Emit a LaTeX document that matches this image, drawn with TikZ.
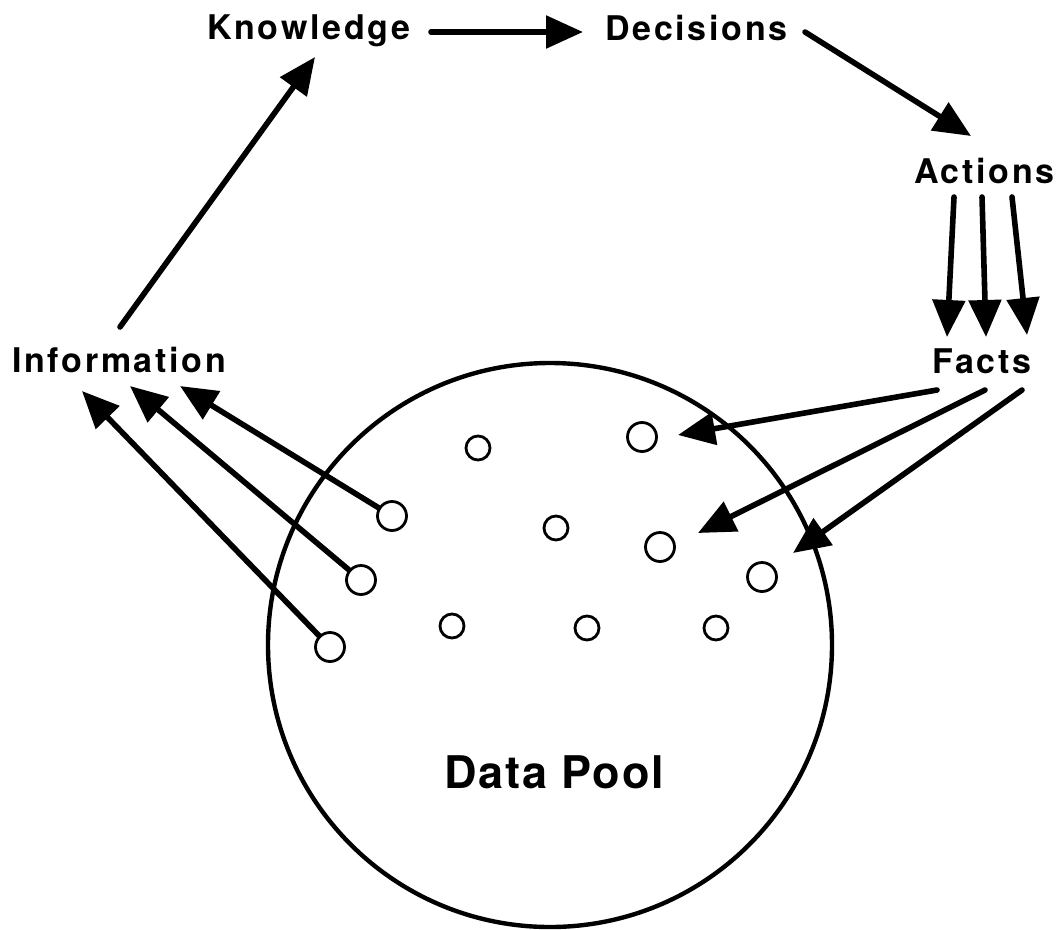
\documentclass[tikz,border=0pt]{standalone}
\usepackage{fontspec}
\newfontfamily\labelfont[LetterSpace=8]{TeX Gyre Heros}
\newfontfamily\poolfont[LetterSpace=4]{TeX Gyre Heros}
\usetikzlibrary{arrows.meta}
\begin{document}
\begin{tikzpicture}[x=1pt,y=-1pt,
  lbl/.style={anchor=base west,inner sep=0pt,font=\labelfont\bfseries\fontsize{34}{40}\selectfont},
  arr/.style={line width=5.6pt,line cap=round,-{Triangle[length=37pt,width=32pt]}},
  dot/.style={circle,draw,line width=2.8pt,inner sep=0pt,minimum size=#1},
  dot/.default=29pt]
\useasboundingbox (0,0) rectangle (1056,929);

% the data pool
\node[circle,draw,line width=4.4pt,minimum size=564pt,inner sep=0pt] (pool) at (550,645) {};
\node[anchor=base west,inner sep=0pt,font=\poolfont\bfseries\fontsize{45}{52}\selectfont] (pooltxt) at (444,788) {Data Pool};

% data items
\node[dot] (d1) at (642,437) {};
\node[dot] (d2) at (392,516) {};
\node[dot] (d3) at (660,547) {};
\node[dot] (d4) at (361,580) {};
\node[dot] (d5) at (762,577) {};
\node[dot] (d6) at (330,647) {};
\node[dot=24pt] (s1) at (478,448) {};
\node[dot=24pt] (s2) at (556,528) {};
\node[dot=24pt] (s3) at (452,626) {};
\node[dot=24pt] (s4) at (587,628) {};
\node[dot=24pt] (s5) at (716,628) {};

% labels
\node[lbl] (know) at (207,39) {Knowledge};
\node[lbl] (dec) at (605,40) {Decisions};
\node[lbl] (act) at (914,183) {Actions};
\node[lbl] (facts) at (932,373) {Facts};
\node[lbl] (info) at (12,372) {Information};

% arrow end points next to the labels
\coordinate (k-out) at (431,32);
\coordinate (d-in) at (583,32);
\coordinate (d-out) at (805,32);
\coordinate (a-in) at (971,136);
\coordinate (a-out1) at (954,197);
\coordinate (a-out2) at (982,197);
\coordinate (a-out3) at (1012,197);
\coordinate (f-in1) at (947,337);
\coordinate (f-in2) at (986,337);
\coordinate (f-in3) at (1027,335);
\coordinate (f-out1) at (937,390);
\coordinate (f-out2) at (985,390);
\coordinate (f-out3) at (1022,390);
\coordinate (p-in1) at (678,435);
\coordinate (p-in2) at (698,533);
\coordinate (p-in3) at (793,553);
\coordinate (i-in1) at (180,386);
\coordinate (i-in2) at (130,386);
\coordinate (i-in3) at (82,391);
\coordinate (i-out) at (120,327);
\coordinate (k-in) at (315,57);

% the cycle
\draw[arr] (k-out) -- (d-in);
\draw[arr] (d-out) -- (a-in);
\draw[arr] (a-out1) -- (f-in1);
\draw[arr] (a-out2) -- (f-in2);
\draw[arr] (a-out3) -- (f-in3);
\draw[arr] (f-out1) -- (p-in1);
\draw[arr] (f-out2) -- (p-in2);
\draw[arr] (f-out3) -- (p-in3);
\draw[arr] (d2) -- (i-in1);
\draw[arr] (d4) -- (i-in2);
\draw[arr] (d6) -- (i-in3);
\draw[arr] (i-out) -- (k-in);
\end{tikzpicture}
\end{document}
